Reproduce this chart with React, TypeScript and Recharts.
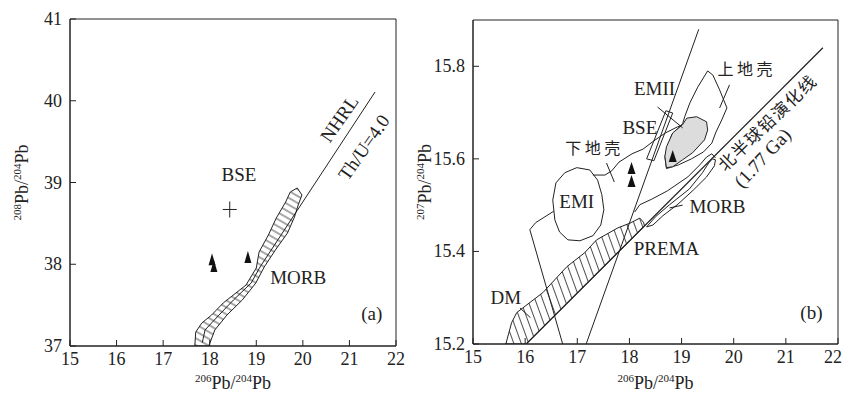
import React from 'react'
import { ScatterChart, Scatter, XAxis, YAxis, ReferenceArea } from 'recharts'

const SERIF = '"Liberation Serif", "DejaVu Serif", serif'
const CJK = '"Noto Sans CJK SC", "Noto Sans CJK JP", sans-serif'
const INK = '#222'

type P = { x: number; y: number }
type T = P & { text: string }

const X_TICKS = [15, 16, 17, 18, 19, 20, 21, 22]

// ---------- (a) 208Pb/204Pb vs 206Pb/204Pb ----------
const A_Y_TICKS = [37, 38, 39, 40, 41]

const A_MORB: P[] = [
  { x: 19.88, y: 38.933 }, { x: 19.98, y: 38.847 }, { x: 19.9, y: 38.725 },
  { x: 19.82, y: 38.578 }, { x: 19.67, y: 38.382 }, { x: 19.41, y: 38.174 },
  { x: 19.17, y: 37.966 }, { x: 18.99, y: 37.771 }, { x: 18.7, y: 37.563 },
  { x: 18.37, y: 37.379 }, { x: 18.11, y: 37.196 }, { x: 17.98, y: 37.0 },
  { x: 17.68, y: 37.0 }, { x: 17.7, y: 37.171 }, { x: 17.83, y: 37.281 },
  { x: 18.04, y: 37.379 }, { x: 18.29, y: 37.526 }, { x: 18.78, y: 37.746 },
  { x: 19.0, y: 37.954 }, { x: 19.06, y: 38.15 }, { x: 19.26, y: 38.358 },
  { x: 19.43, y: 38.566 }, { x: 19.63, y: 38.761 }, { x: 19.73, y: 38.884 },
]

// NHRL (Th/U = 4.0), continued down the middle of the MORB band
const A_NHRL: P[] = [
  { x: 21.55, y: 40.107 }, { x: 19.08, y: 37.966 }, { x: 18.89, y: 37.771 },
  { x: 18.51, y: 37.563 }, { x: 18.2, y: 37.379 }, { x: 17.9, y: 37.196 },
  { x: 17.84, y: 37.04 },
]

const A_SAMPLES: P[] = [
  { x: 18.05, y: 38.06 }, { x: 18.09, y: 37.98 }, { x: 18.82, y: 38.09 },
]
const A_BSE: P[] = [{ x: 18.43, y: 38.67 }]

const A_LABELS: T[] = [
  { x: 18.63, y: 39.1, text: 'BSE' },
  { x: 19.9, y: 37.84, text: 'MORB' },
  { x: 21.48, y: 37.4, text: '(a)' },
]
const A_LINE_LABELS: T[] = [
  { x: 20.78, y: 39.78, text: 'NHRL' },
  { x: 21.31, y: 39.43, text: 'Th/U=4.0' },
]

// ---------- (b) 207Pb/204Pb vs 206Pb/204Pb ----------
const B_Y_TICKS = [15.2, 15.4, 15.6, 15.8]

const B_NHRL: P[] = [{ x: 16.02, y: 15.2 }, { x: 21.71, y: 15.84 }]
const B_STEEP: P[] = [{ x: 17.17, y: 15.2 }, { x: 19.33, y: 15.88 }]

const B_DM: P[] = [
  { x: 15.63, y: 15.2 }, { x: 15.74, y: 15.246 }, { x: 15.84, y: 15.268 },
  { x: 16.34, y: 15.311 }, { x: 16.8, y: 15.367 }, { x: 17.14, y: 15.397 },
  { x: 17.37, y: 15.425 }, { x: 17.78, y: 15.451 }, { x: 18.01, y: 15.461 },
  { x: 18.2, y: 15.472 }, { x: 18.27, y: 15.463 }, { x: 18.29, y: 15.455 },
  { x: 16.02, y: 15.2 },
]

const B_EMI: P[] = [
  { x: 16.53, y: 15.511 }, { x: 16.59, y: 15.548 }, { x: 16.76, y: 15.57 },
  { x: 16.99, y: 15.581 }, { x: 17.24, y: 15.576 }, { x: 17.39, y: 15.554 },
  { x: 17.47, y: 15.523 }, { x: 17.51, y: 15.49 }, { x: 17.45, y: 15.457 },
  { x: 17.3, y: 15.434 }, { x: 17.05, y: 15.423 }, { x: 16.82, y: 15.425 },
  { x: 16.66, y: 15.442 }, { x: 16.57, y: 15.468 },
]

const B_LC_LEFT: P[] = [
  { x: 16.72, y: 15.2 }, { x: 16.09, y: 15.447 }, { x: 16.2, y: 15.462 },
  { x: 16.55, y: 15.487 },
]
const B_LC_TOP: P[] = [
  { x: 17.3, y: 15.565 }, { x: 17.53, y: 15.565 }, { x: 17.66, y: 15.574 },
  { x: 17.8, y: 15.593 }, { x: 18.05, y: 15.611 }, { x: 18.26, y: 15.621 },
  { x: 18.47, y: 15.639 }, { x: 18.69, y: 15.656 }, { x: 18.92, y: 15.669 },
  { x: 19.1, y: 15.677 },
]
const B_LC_LOWER: P[] = [
  { x: 18.1, y: 15.485 }, { x: 18.2, y: 15.501 }, { x: 18.43, y: 15.513 },
  { x: 18.73, y: 15.531 }, { x: 19.12, y: 15.561 }, { x: 19.35, y: 15.587 },
  { x: 19.48, y: 15.604 }, { x: 19.58, y: 15.611 }, { x: 19.65, y: 15.602 },
]

const B_MORB: P[] = [
  { x: 18.33, y: 15.453 }, { x: 18.5, y: 15.475 }, { x: 18.77, y: 15.501 },
  { x: 19.15, y: 15.535 }, { x: 19.4, y: 15.57 }, { x: 19.52, y: 15.591 },
  { x: 19.59, y: 15.6 }, { x: 19.65, y: 15.598 }, { x: 19.63, y: 15.585 },
  { x: 19.48, y: 15.561 }, { x: 19.23, y: 15.533 }, { x: 18.93, y: 15.502 },
  { x: 18.64, y: 15.477 }, { x: 18.45, y: 15.457 },
]

const B_UC: P[] = [
  { x: 19.5, y: 15.79 }, { x: 19.6, y: 15.781 }, { x: 19.73, y: 15.749 },
  { x: 19.87, y: 15.71 }, { x: 19.77, y: 15.684 }, { x: 19.66, y: 15.658 },
  { x: 19.58, y: 15.634 }, { x: 19.42, y: 15.615 }, { x: 19.19, y: 15.6 },
  { x: 18.94, y: 15.587 }, { x: 18.71, y: 15.579 }, { x: 18.68, y: 15.605 },
  { x: 18.81, y: 15.652 }, { x: 19.02, y: 15.676 }, { x: 19.06, y: 15.691 },
  { x: 19.16, y: 15.721 }, { x: 19.31, y: 15.755 },
]

const B_GREY: P[] = [
  { x: 19.1, y: 15.688 }, { x: 19.29, y: 15.691 }, { x: 19.48, y: 15.68 },
  { x: 19.5, y: 15.662 }, { x: 19.44, y: 15.641 }, { x: 19.21, y: 15.613 },
  { x: 19.02, y: 15.598 }, { x: 18.83, y: 15.583 }, { x: 18.71, y: 15.581 },
  { x: 18.68, y: 15.605 }, { x: 18.71, y: 15.626 }, { x: 18.83, y: 15.656 },
  { x: 19.02, y: 15.674 },
]

const B_EMII: P[] = [
  { x: 18.33, y: 15.6 }, { x: 18.47, y: 15.596 }, { x: 18.83, y: 15.699 },
  { x: 18.7, y: 15.704 },
]

const B_LEADERS: P[][] = [
  [{ x: 17.56, y: 15.591 }, { x: 17.71, y: 15.55 }], // 下地壳
  [{ x: 19.92, y: 15.76 }, { x: 19.73, y: 15.71 }], // 上地壳
  [{ x: 18.54, y: 15.712 }, { x: 19.02, y: 15.667 }], // EMII
  [{ x: 18.77, y: 15.494 }, { x: 19.02, y: 15.5 }], // MORB
  [{ x: 15.9, y: 15.278 }, { x: 16.1, y: 15.257 }], // DM
]

const B_SAMPLES: P[] = [
  { x: 18.04, y: 15.58 }, { x: 18.04, y: 15.552 }, { x: 18.83, y: 15.606 },
]

const B_LABELS: T[] = [
  { x: 18.48, y: 15.753, text: 'EMII' },
  { x: 18.2, y: 15.667, text: 'BSE' },
  { x: 16.99, y: 15.507, text: 'EMI' },
  { x: 19.69, y: 15.496, text: 'MORB' },
  { x: 18.71, y: 15.406, text: 'PREMA' },
  { x: 15.63, y: 15.3, text: 'DM' },
  { x: 21.49, y: 15.268, text: '(b)' },
]
const B_CJK_LABELS: T[] = [
  { x: 20.25, y: 15.796, text: '上地壳' },
  { x: 17.33, y: 15.626, text: '下地壳' },
]
const B_NHRL_NAME: T[] = [{ x: 20.63, y: 15.68, text: '北半球铅演化线' }]
const B_NHRL_AGE: T[] = [{ x: 20.55, y: 15.602, text: '(1.77 Ga)' }]

// ---------- drawing helpers ----------
const noDot = () => <g />

function outline(
  key: string,
  data: P[],
  opts: { closed?: boolean; smooth?: boolean; fill?: string; width?: number } = {},
) {
  const type = opts.closed ? (opts.smooth ? 'basisClosed' : 'linearClosed') : 'linear'
  return (
    <Scatter
      key={key}
      data={data}
      shape={noDot}
      isAnimationActive={false}
      line={{ stroke: INK, strokeWidth: opts.width ?? 1, fill: opts.fill ?? 'none' }}
      lineJointType={type as any}
    />
  )
}

function texts(key: string, data: T[], font: string, size: number, rotate = 0, spacing = 0) {
  return (
    <Scatter
      key={key}
      data={data}
      isAnimationActive={false}
      shape={(p: any) => (
        <text
          x={p.cx}
          y={p.cy}
          textAnchor="middle"
          dominantBaseline="central"
          fontFamily={font}
          fontSize={size}
          letterSpacing={spacing}
          fill={INK}
          transform={rotate ? `rotate(${rotate} ${p.cx} ${p.cy})` : undefined}
        >
          {p.payload.text}
        </text>
      )}
    />
  )
}

const triangle = (w: number, h: number) => (p: any) => (
  <path
    d={`M${p.cx},${p.cy - h / 2} L${p.cx + w / 2},${p.cy + h / 2} L${p.cx - w / 2},${p.cy + h / 2} Z`}
    fill="#111"
  />
)

const plus = (p: any) => (
  <g stroke={INK} strokeWidth={1}>
    <line x1={p.cx - 7} x2={p.cx + 7} y1={p.cy} y2={p.cy} />
    <line x1={p.cx} x2={p.cx} y1={p.cy - 8} y2={p.cy + 8} />
  </g>
)

// the last label of panel (b) sits at the page edge, so it is pulled inwards
const xTick = (endTick?: number) => (p: any) => {
  const atEnd = endTick !== undefined && p.payload.value === endTick
  return (
    <g>
      <line x1={p.x} x2={p.x} y1={p.y} y2={p.y - 6} stroke={INK} />
      <text
        x={atEnd ? p.x + 4 : p.x}
        y={p.y + 19}
        textAnchor={atEnd ? 'end' : 'middle'}
        fontFamily={SERIF}
        fontSize={18}
        fill={INK}
      >
        {p.payload.value}
      </text>
    </g>
  )
}

const yTick = (digits: number) => (p: any) => (
  <g>
    <line x1={p.x} x2={p.x + 6} y1={p.y} y2={p.y} stroke={INK} />
    <text x={p.x - 8} y={p.y + 6} textAnchor="end" fontFamily={SERIF} fontSize={18} fill={INK}>
      {Number(p.payload.value).toFixed(digits)}
    </text>
  </g>
)

function IsoText({ num }: { num: string }) {
  return (
    <>
      <tspan fontSize={11} dy={-7}>{num}</tspan>
      <tspan fontSize={18} dy={7}>Pb/</tspan>
      <tspan fontSize={11} dy={-7}>204</tspan>
      <tspan fontSize={18} dy={7}>Pb</tspan>
    </>
  )
}

const xTitle = (p: any) => {
  const vb = p.viewBox
  return (
    <text x={vb.x + vb.width / 2} y={vb.y + vb.height - 6} textAnchor="middle" fontFamily={SERIF} fill={INK}>
      <IsoText num="206" />
    </text>
  )
}

const yTitle = (num: string, dx: number) => (p: any) => {
  const vb = p.viewBox
  const cx = vb.x + dx
  const cy = vb.y + vb.height / 2
  return (
    <text transform={`translate(${cx},${cy}) rotate(-90)`} x={0} y={6} textAnchor="middle" fontFamily={SERIF} fill={INK}>
      <IsoText num={num} />
    </text>
  )
}

function PanelA() {
  return (
    <ScatterChart width={420} height={395} margin={{ top: 19, right: 24, bottom: 0, left: 0 }}>
      <defs>
        <pattern id="hatchA" patternUnits="userSpaceOnUse" width={6} height={6} patternTransform="rotate(30)">
          <line x1={0} x2={6} y1={3} y2={3} stroke={INK} strokeWidth={0.8} />
        </pattern>
      </defs>
      <XAxis
        type="number"
        dataKey="x"
        domain={[15, 22]}
        ticks={X_TICKS}
        interval={0}
        allowDataOverflow
        height={49}
        tickSize={0}
        tickMargin={0}
        tickLine={false}
        axisLine={{ stroke: INK }}
        tick={xTick()}
        label={{ content: xTitle }}
      />
      <YAxis
        type="number"
        dataKey="y"
        domain={[37, 41]}
        ticks={A_Y_TICKS}
        interval={0}
        allowDataOverflow
        width={70}
        tickSize={0}
        tickMargin={0}
        tickLine={false}
        axisLine={{ stroke: INK }}
        tick={yTick(0)}
        label={{ content: yTitle('208', 22) }}
      />
      <ReferenceArea x1={15} x2={22} y1={37} y2={41} fill="none" stroke={INK} strokeWidth={1} />
      {outline('morb', A_MORB, { closed: true, fill: 'url(#hatchA)' })}
      {outline('nhrl', A_NHRL)}
      <Scatter data={A_SAMPLES} shape={triangle(7, 12)} isAnimationActive={false} />
      <Scatter data={A_BSE} shape={plus} isAnimationActive={false} />
      {texts('labels', A_LABELS, SERIF, 19)}
      {texts('lineLabels', A_LINE_LABELS, SERIF, 19, -55)}
    </ScatterChart>
  )
}

function PanelB() {
  return (
    <ScatterChart width={443} height={395} margin={{ top: 20, right: 5, bottom: 0, left: 0 }}>
      <defs>
        <pattern id="hatchB" patternUnits="userSpaceOnUse" width={7} height={7} patternTransform="rotate(-20)">
          <line x1={3.5} x2={3.5} y1={0} y2={7} stroke={INK} strokeWidth={0.8} />
        </pattern>
      </defs>
      <XAxis
        type="number"
        dataKey="x"
        domain={[15, 22]}
        ticks={X_TICKS}
        interval={0}
        allowDataOverflow
        height={51}
        tickSize={0}
        tickMargin={0}
        tickLine={false}
        axisLine={{ stroke: INK }}
        tick={xTick(22)}
        label={{ content: xTitle }}
      />
      <YAxis
        type="number"
        dataKey="y"
        domain={[15.2, 15.9]}
        ticks={B_Y_TICKS}
        interval={0}
        allowDataOverflow
        width={73}
        tickSize={0}
        tickMargin={0}
        tickLine={false}
        axisLine={{ stroke: INK }}
        tick={yTick(1)}
        label={{ content: yTitle('207', 25) }}
      />
      <ReferenceArea x1={15} x2={22} y1={15.2} y2={15.9} fill="none" stroke={INK} strokeWidth={1} />
      {outline('dm', B_DM, { closed: true, fill: 'url(#hatchB)' })}
      {outline('nhrl', B_NHRL, { width: 1.3 })}
      {outline('steep', B_STEEP)}
      {outline('emi', B_EMI, { closed: true, fill: '#fff' })}
      {outline('lcLeft', B_LC_LEFT)}
      {outline('lcTop', B_LC_TOP)}
      {outline('lcLower', B_LC_LOWER)}
      {outline('morb', B_MORB, { closed: true })}
      {outline('uc', B_UC, { closed: true })}
      {outline('grey', B_GREY, { closed: true, fill: '#dcdcdc' })}
      {outline('emii', B_EMII, { closed: true })}
      {B_LEADERS.map((seg, i) => outline(`leader${i}`, seg))}
      <Scatter data={B_SAMPLES} shape={triangle(8, 12)} isAnimationActive={false} />
      {texts('labels', B_LABELS, SERIF, 19)}
      {texts('cjk', B_CJK_LABELS, CJK, 16, 0, 3.5)}
      {texts('nhrlName', B_NHRL_NAME, CJK, 17, -44, 1.5)}
      {texts('nhrlAge', B_NHRL_AGE, SERIF, 19, -47)}
    </ScatterChart>
  )
}

export default function App() {
  return (
    <div style={{ position: 'absolute', left: 0, top: 0, width: 843, height: 395, background: '#fff' }}>
      <div style={{ position: 'absolute', left: 0, top: 0 }}>
        <PanelA />
      </div>
      <div style={{ position: 'absolute', left: 400, top: 0 }}>
        <PanelB />
      </div>
    </div>
  )
}
